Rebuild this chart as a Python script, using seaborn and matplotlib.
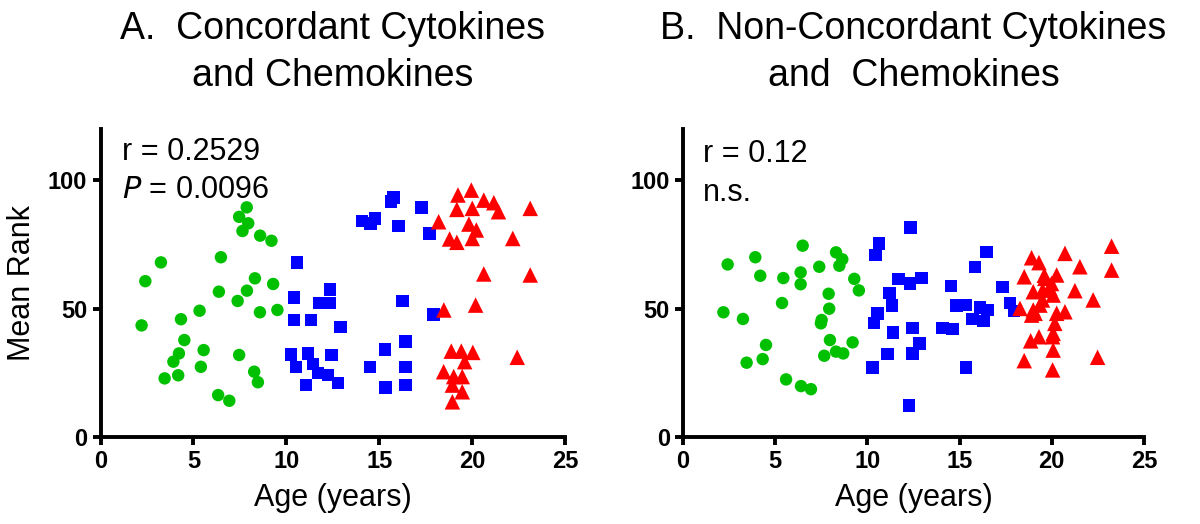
import matplotlib
matplotlib.use("Agg")
import matplotlib.pyplot as plt
import seaborn as sns
import pandas as pd

# ---------------- data ----------------
# Panel A: Concordant cytokines and chemokines
a_green_age = [7.87, 7.46, 7.95, 7.64, 8.59, 9.20, 3.25, 6.48, 2.41, 8.31, 9.29, 6.37, 7.88, 7.38,
               5.33, 8.58, 9.52, 2.21, 4.33, 4.51, 4.22, 3.92, 5.55, 5.40, 7.46, 3.45, 4.18, 8.27,
               8.47, 6.33, 6.93]
a_green_rank = [89.4, 85.7, 83.2, 80.2, 78.4, 76.4, 68.0, 70.0, 60.7, 61.8, 59.6, 56.6, 57.0, 53.0,
                49.2, 48.6, 49.5, 43.5, 45.9, 37.8, 32.6, 29.4, 33.9, 27.4, 32.0, 22.9, 24.1, 25.5,
                21.4, 16.4, 14.2]
a_blue_age = [15.78, 15.62, 17.28, 14.06, 14.77, 14.54, 16.05, 17.70, 10.58, 12.34, 10.40, 11.75,
              12.34, 16.25, 17.93, 10.40, 11.33, 12.91, 10.24, 11.17, 12.43, 10.51, 11.44, 11.71,
              12.25, 11.05, 12.79, 15.30, 16.41, 14.51, 16.42, 15.33, 16.42]
a_blue_rank = [93.3, 91.6, 89.4, 84.2, 85.1, 83.2, 82.2, 79.3, 68.0, 57.5, 54.3, 52.2,
               52.1, 53.0, 47.7, 45.5, 45.5, 42.9, 32.2, 32.6, 32.0, 27.4, 28.4, 24.9,
               24.2, 20.3, 21.0, 34.2, 37.2, 27.3, 27.4, 19.4, 20.3]
a_red_age = [19.96, 19.24, 20.63, 21.17, 21.42, 23.13, 19.18, 20.01, 18.20, 19.83, 20.23, 18.79,
             19.18, 20.01, 22.19, 20.63, 23.13, 20.19, 18.48, 18.88, 19.42, 20.04, 22.43, 19.60,
             18.47, 19.01, 19.47, 18.94, 19.47, 18.94]
a_red_rank = [96.1, 94.2, 92.2, 91.2, 87.7, 89.0, 88.6, 89.0, 83.8, 82.9, 80.6, 77.1,
              75.8, 77.3, 77.3, 63.5, 63.1, 51.4, 49.5, 33.5, 33.5, 33.0, 31.1, 29.4,
              25.5, 23.6, 23.6, 20.3, 17.7, 13.8]

# Panel B: Non-concordant cytokines and chemokines
b_green_age = [6.49, 2.42, 3.92, 8.30, 8.64, 8.48, 7.39, 4.19, 5.44, 6.38, 6.38, 9.29, 9.54, 7.90,
               5.37, 7.93, 2.19, 3.25, 7.52, 7.48, 7.97, 9.20, 4.50, 4.32, 3.45, 7.66, 8.30, 8.69,
               5.59, 6.40, 6.94]
b_green_rank = [74.5, 67.2, 70.0, 71.9, 69.2, 66.7, 66.3, 62.8, 61.9, 64.1, 59.5, 61.6, 57.1, 55.8,
                52.2, 50.0, 48.6, 46.0, 45.6, 44.3, 37.8, 36.9, 35.9, 30.4, 29.0, 31.7, 33.3, 32.6,
                22.5, 19.9, 18.7]
b_blue_age = [12.35, 10.63, 10.45, 16.47, 15.83, 11.70, 12.31, 12.94, 14.53, 17.34, 11.19, 11.35,
              14.84, 15.35, 16.11, 16.52, 17.73, 17.97, 10.54, 10.36, 15.71, 16.29, 14.08, 14.63,
              11.40, 12.44, 12.82, 12.46, 11.10, 10.27, 15.35, 12.27]
b_blue_rank = [81.6, 75.4, 70.9, 72.1, 66.1, 61.5, 59.8, 62.0, 58.9, 58.5, 56.0, 51.3,
               51.3, 51.4, 50.5, 49.5, 52.1, 49.2, 48.2, 44.5, 46.0, 45.2, 42.5, 42.2,
               40.8, 42.5, 36.5, 32.6, 32.3, 27.1, 27.2, 12.3]
b_red_age = [18.91, 19.31, 18.51, 19.63, 19.00, 19.51, 19.90, 18.28, 19.00, 19.36, 18.91, 20.17,
             18.86, 19.31, 20.05, 20.08, 18.51, 20.05, 23.25, 23.25, 20.72, 21.53, 20.27, 19.99,
             21.26, 22.25, 20.08, 20.27, 20.72, 20.08, 22.49, 19.50, 19.10, 19.60]
b_red_rank = [69.8, 67.9, 62.4, 61.8, 56.6, 57.2, 57.9, 50.1, 49.5, 51.4, 47.5, 44.3,
              37.5, 39.1, 39.1, 33.9, 29.8, 26.2, 74.3, 65.0, 71.5, 66.3, 63.1, 59.8,
              57.0, 53.4, 55.3, 48.2, 48.8, 40.4, 31.1, 53.4, 48.2, 63.0]

groups = ["young", "middle", "old"]
panel_titles = ["A.  Concordant Cytokines\nand Chemokines",
                "B.  Non-Concordant Cytokines\nand  Chemokines"]
x_ticks = [0, 5, 10, 15, 20, 25]
y_ticks = [0, 50, 100]


def make_df(g_age, g_rank, b_age, b_rank, r_age, r_rank):
    return pd.DataFrame({
        "age": g_age + b_age + r_age,
        "rank": g_rank + b_rank + r_rank,
        "group": [groups[0]] * len(g_age) + [groups[1]] * len(b_age) + [groups[2]] * len(r_age),
    })


df_a = make_df(a_green_age, a_green_rank, a_blue_age, a_blue_rank, a_red_age, a_red_rank)
df_b = make_df(b_green_age, b_green_rank, b_blue_age, b_blue_rank, b_red_age, b_red_rank)

# ---------------- style ----------------
sns.set_theme(style="ticks")
plt.rcParams["font.family"] = ["Liberation Sans", "DejaVu Sans"]
plt.rcParams["text.color"] = "black"
plt.rcParams["axes.labelcolor"] = "black"
plt.rcParams["xtick.color"] = "black"
plt.rcParams["ytick.color"] = "black"

palette = {"young": "#00C000", "middle": "#0000FF", "old": "#FF0000"}
markers = {"young": "o", "middle": "s", "old": "^"}
sizes = {"young": 80, "middle": 80, "old": 125}

fig = plt.figure(figsize=(12, 5.24), dpi=100)
ax_a = fig.add_axes([0.0838, 0.1655, 0.387, 0.589])
ax_b = fig.add_axes([0.5692, 0.1655, 0.384, 0.589])

for ax, df, title in [(ax_a, df_a, panel_titles[0]), (ax_b, df_b, panel_titles[1])]:
    for g in groups:
        sub = df[df["group"] == g]
        sns.scatterplot(data=sub, x="age", y="rank", color=palette[g], marker=markers[g],
                        s=sizes[g], edgecolor="none", linewidth=0, ax=ax, legend=False,
                        zorder=3)
    ax.set_xlim(0, 25)
    ax.set_ylim(0, 120)
    ax.set_xticks(x_ticks)
    ax.set_yticks(y_ticks)
    for side in ["top", "right"]:
        ax.spines[side].set_visible(False)
    for side in ["left", "bottom"]:
        ax.spines[side].set_linewidth(2.8)
        ax.spines[side].set_color("black")
    ax.tick_params(axis="both", direction="out", length=5.5, width=2.8, colors="black",
                   labelcolor="black", labelsize=17, pad=4)
    for lab in ax.get_xticklabels() + ax.get_yticklabels():
        lab.set_fontweight("bold")
        lab.set_color("black")
    ax.set_xlabel("Age (years)", fontsize=22, labelpad=7, color="black")
    ax.set_ylabel("")
    bbox = ax.get_position()
    fig.text((bbox.x0 + bbox.x1) / 2, 0.9, title, ha="center", va="center",
             fontsize=27, linespacing=1.4, color="black")

ax_a.set_ylabel("Mean Rank", fontsize=22, labelpad=8, color="black")

ax_a.text(1.15, 107.8, "r = 0.2529", fontsize=22, ha="left", va="baseline", color="black")
ax_a.text(1.15, 93.0, "$\\mathit{P}$ = 0.0096", fontsize=22, ha="left", va="baseline", color="black")
ax_b.text(1.1, 107.0, "r = 0.12", fontsize=22, ha="left", va="baseline", color="black")
ax_b.text(1.1, 92.0, "n.s.", fontsize=22, ha="left", va="baseline", color="black")

fig.savefig("out.png", dpi=100)
